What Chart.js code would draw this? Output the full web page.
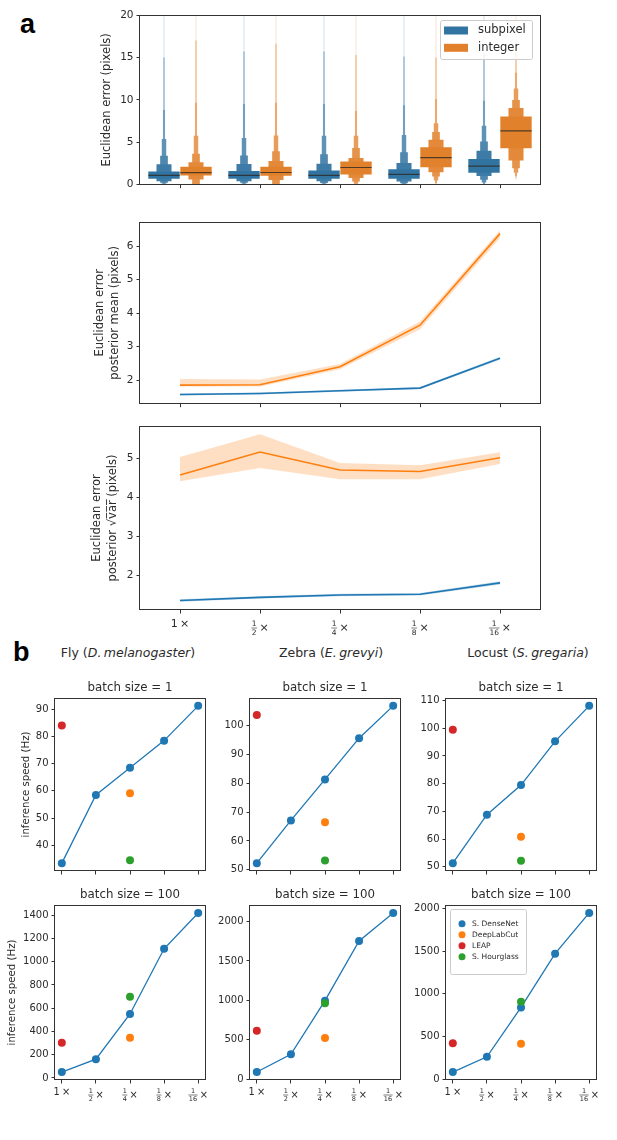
<!DOCTYPE html>
<html>
<head>
<meta charset="utf-8">
<script src="https://cdn.jsdelivr.net/npm/chart.js@4.4.1/dist/chart.umd.min.js"></script>
<style>
  body { margin: 0; width: 617px; height: 1140px; background: #fff; position: relative; overflow: hidden;
         font-family: "DejaVu Sans", sans-serif; color: #2b2b2b; }
  canvas { position: absolute; }
  .panel { position: absolute; font: bold 27px "Liberation Sans", Arial, sans-serif; line-height: 27px; color: #000; }
  .species { position: absolute; font-size: 12.5px; line-height: 1; white-space: nowrap; transform: translate(-50%, -50%); }
</style>
</head>
<body>
<div class="panel" style="left:20px;top:11px">a</div>
<div class="panel" style="left:13px;top:639px">b</div>
<div class="species" style="left:128px;top:653px">Fly (<i>D.&#8201;melanogaster</i>)</div>
<div class="species" style="left:331px;top:653px">Zebra (<i>E.&#8201;grevyi</i>)</div>
<div class="species" style="left:528px;top:653px">Locust (<i>S.&#8201;gregaria</i>)</div>

<canvas id="boxen"></canvas>
<canvas id="meanErr"></canvas>
<canvas id="sdErr"></canvas>
<canvas id="fly1"></canvas>
<canvas id="fly100"></canvas>
<canvas id="zebra1"></canvas>
<canvas id="zebra100"></canvas>
<canvas id="locust1"></canvas>
<canvas id="locust100"></canvas>

<script>
// ---------- DATA ----------
const scaleLabels = ['1', '1/2', '1/4', '1/8', '1/16'];
const hueNames = ['subpixel', 'integer'];

// boxen plot: medians + letter values, innermost level (quartiles) -> outermost
const subMedian = [1.09, 1.09, 1.09, 1.21, 2.19];
const subLow = [
  [0.70, 0.40, 0.22, 0.12, 0.06, 0.03, 0.00],
  [0.70, 0.40, 0.22, 0.12, 0.06, 0.03, 0.00],
  [0.70, 0.40, 0.20, 0.10, 0.05, 0.02, 0.00],
  [0.70, 0.39, 0.18, 0.09, 0.04, 0.02, 0.00],
  [1.40, 1.02, 0.58, 0.25, 0.10, 0.04, 0.00]
];
const subHigh = [
  [1.56, 2.40, 3.40, 5.40, 8.80, 15.0, 20.0],
  [1.60, 2.45, 3.45, 5.50, 9.50, 15.7, 20.0],
  [1.67, 2.46, 3.60, 5.77, 9.50, 15.7, 20.0],
  [1.83, 2.57, 3.82, 5.85, 9.36, 15.1, 20.0],
  [3.04, 4.00, 5.10, 6.94, 9.90, 15.5, 20.0]
];
const intMedian = [1.42, 1.44, 2.03, 3.20, 6.35];
const intLow = [
  [1.09, 0.62, 0.00, 0.00, 0.00, 0.00, 0.00],
  [1.05, 0.55, 0.00, 0.00, 0.00, 0.00, 0.00],
  [1.20, 0.78, 0.39, 0.10, 0.00, 0.00, 0.00],
  [2.07, 1.48, 0.97, 0.50, 0.20, 0.00, 0.00],
  [4.29, 2.85, 1.95, 1.40, 1.02, 0.80, 0.50]
];
const intHigh = [
  [2.12, 2.65, 3.65, 5.77, 9.65, 17.0, 20.0],
  [2.12, 2.80, 3.94, 5.80, 9.67, 16.6, 20.0],
  [2.73, 3.16, 4.33, 5.77, 8.70, 15.3, 20.0],
  [4.40, 5.30, 6.20, 7.25, 10.1, 15.0, 20.0],
  [8.03, 9.04, 9.98, 11.35, 13.2, 17.0, 20.0]
];

// posterior mean error
const meanSub = [1.57, 1.60, 1.68, 1.76, 2.65];
const meanSubLow = [1.54, 1.57, 1.65, 1.73, 2.61];
const meanSubHigh = [1.60, 1.63, 1.71, 1.79, 2.70];
const meanInt = [1.85, 1.86, 2.40, 3.64, 6.38];
const meanIntLow = [1.81, 1.81, 2.32, 3.52, 6.25];
const meanIntHigh = [2.03, 2.02, 2.48, 3.75, 6.48];

// posterior sqrt(var)
const sdSub = [1.36, 1.44, 1.50, 1.52, 1.81];
const sdSubLow = [1.33, 1.41, 1.47, 1.49, 1.77];
const sdSubHigh = [1.39, 1.47, 1.53, 1.55, 1.85];
const sdInt = [4.57, 5.16, 4.70, 4.66, 5.01];
const sdIntLow = [4.41, 4.75, 4.46, 4.46, 4.85];
const sdIntHigh = [5.03, 5.61, 4.88, 4.82, 5.15];

// inference speed (Hz)
const methodNames = ['S. DenseNet', 'DeepLabCut', 'LEAP', 'S. Hourglass'];
const baselineAt = [2, 0, 2];   // scale index of DeepLabCut, LEAP, S. Hourglass
const batchTitles = ['batch size = 1', 'batch size = 100'];
const denseFly1 = [33.4, 58.5, 68.5, 78.5, 91.3];
const baseFly1 = [59.1, 84.1, 34.5];
const denseFly100 = [51, 162, 550, 1111, 1419];
const baseFly100 = [345, 303, 698];
const denseZebra1 = [52.3, 67.1, 81.3, 95.6, 106.8];
const baseZebra1 = [66.5, 103.6, 53.2];
const denseZebra100 = [89, 314, 996, 1754, 2110];
const baseZebra100 = [521, 615, 962];
const denseLocust1 = [51.3, 68.8, 79.5, 95.3, 108.1];
const baseLocust1 = [60.8, 99.5, 52.2];
const denseLocust100 = [82, 261, 839, 1469, 1946];
const baseLocust100 = [413, 418, 906];

// ---------- STYLE ----------
const FONT = '"DejaVu Sans", sans-serif';
const INK = '#2b2b2b';
const FRAME = '#333333';
const hueColors = ['#3274a1', '#e1812c'];
const lineColors = ['#1f77b4', '#ff7f0e'];
const bandColors = ['rgba(31,119,180,0.25)', 'rgba(255,127,14,0.25)'];
const methodColors = ['#1f77b4', '#ff7f0e', '#d62728', '#2ca02c'];
const levelWidth = [0.98, 0.47, 0.24, 0.14, 0.065, 0.045, 0.03];
const levelFade = [0, 0.06, 0.14, 0.22, 0.32, 0.5, 0.78];

Chart.defaults.font.family = FONT;
Chart.defaults.color = INK;

function fade(hex, t) {
  const n = parseInt(hex.slice(1), 16);
  const f = c => Math.round(c + (255 - c) * t);
  return `rgb(${f(n >> 16)},${f((n >> 8) & 255)},${f(n & 255)})`;
}

function place(id, left, top, w, h) {
  const c = document.getElementById(id);
  c.width = w; c.height = h;
  c.style.left = left + 'px'; c.style.top = top + 'px';
  return c;
}

function xAxis(min, max, height) {
  return {
    type: 'linear', min: min, max: max, offset: false, bounds: 'data',
    afterBuildTicks: s => { s.ticks = scaleLabels.map((_, i) => ({value: i})); },
    afterFit: s => { s.height = height; },
    border: {display: false},
    grid: {offset: false, drawOnChartArea: false, drawTicks: true, tickLength: 3.5, color: FRAME},
    ticks: {display: false}
  };
}

function yAxis(o) {
  return {
    type: 'linear', min: o.min, max: o.max, bounds: 'data',
    afterBuildTicks: s => {
      const t = [];
      for (let k = Math.ceil(o.min / o.step - 1e-9); k * o.step <= o.max + 1e-9; k++) t.push({value: k * o.step});
      s.ticks = t;
    },
    afterFit: s => { s.width = o.width; },
    border: {display: false},
    grid: {drawOnChartArea: false, drawTicks: true, tickLength: 3.5, color: FRAME},
    ticks: {color: INK, padding: 3, font: {size: o.size}, callback: v => String(v)},
    title: o.title ? {display: true, text: o.title, color: INK,
      padding: {top: o.titlePad, bottom: 0}, font: {size: o.titleSize, lineHeight: o.lh || 1.2}} : {display: false}
  };
}

// axes frame (all four spines)
const framePlugin = {
  id: 'frame',
  afterDatasetsDraw(chart) {
    const {ctx, chartArea: a} = chart;
    ctx.save();
    ctx.strokeStyle = FRAME; ctx.lineWidth = 1;
    const l = Math.round(a.left) - 0.5, t = Math.round(a.top) + 0.5;
    ctx.strokeRect(l, t, Math.round(a.right) - l + 0.5, Math.round(a.bottom) - t - 0.5);
    ctx.restore();
  }
};

// axes title centred over the plotting area
function axesTitle(text, size, dy) {
  return {
    id: 'axesTitle',
    afterDraw(chart) {
      const {ctx, chartArea: a} = chart;
      ctx.save();
      ctx.fillStyle = INK; ctx.font = `${size}px ${FONT}`;
      ctx.textAlign = 'center'; ctx.textBaseline = 'middle';
      ctx.fillText(text, (a.left + a.right) / 2, a.top - dy);
      ctx.restore();
    }
  };
}

// "1x", "1/2 x" ... tick labels with stacked fractions
function scaleTickLabels(big, small, dyWhole, dyFrac) {
  return {
    id: 'scaleTicks',
    afterDraw(chart) {
      const {ctx, chartArea: a} = chart;
      const sx = chart.scales.x;
      ctx.save();
      ctx.fillStyle = INK; ctx.textBaseline = 'middle';
      sx.ticks.forEach((t, i) => {
        const x = sx.getPixelForValue(t.value);
        const parts = scaleLabels[i].split('/');
        ctx.font = `${big}px ${FONT}`;
        const tw = ctx.measureText('×').width;
        const gap = big * 0.22;
        if (parts.length === 1) {
          const y = a.bottom + dyWhole;
          const w1 = ctx.measureText(parts[0]).width;
          const x0 = x - (w1 + gap + tw) / 2;
          ctx.textAlign = 'left';
          ctx.fillText(parts[0], x0, y);
          ctx.fillText('×', x0 + w1 + gap, y);
        } else {
          const y = a.bottom + dyFrac;
          ctx.font = `${small}px ${FONT}`;
          const fw = Math.max(ctx.measureText(parts[0]).width, ctx.measureText(parts[1]).width) + 1;
          const x0 = x - (fw + gap + tw) / 2;
          ctx.textAlign = 'center';
          ctx.fillText(parts[0], x0 + fw / 2, y - small * 0.58);
          ctx.fillText(parts[1], x0 + fw / 2, y + small * 0.68);
          ctx.fillRect(x0, y - 0.3, fw, 0.6);
          ctx.font = `${big}px ${FONT}`;
          ctx.textAlign = 'left';
          ctx.fillText('×', x0 + fw + gap, y);
        }
      });
      ctx.restore();
    }
  };
}

// legend drawn inside the axes
function keyPlugin(o) {
  return {
    id: 'key',
    afterDraw(chart) {
      const {ctx, chartArea: a} = chart;
      const x0 = o.right !== undefined ? a.right - o.right - o.w : a.left + o.left;
      const y0 = a.top + o.top;
      ctx.save();
      ctx.fillStyle = 'rgba(255,255,255,0.85)';
      ctx.strokeStyle = '#cccccc'; ctx.lineWidth = 1;
      ctx.beginPath();
      ctx.roundRect(Math.round(x0) + 0.5, Math.round(y0) + 0.5, o.w, o.h, 2);
      ctx.fill(); ctx.stroke();
      ctx.font = `${o.size}px ${FONT}`;
      ctx.textBaseline = 'middle'; ctx.textAlign = 'left';
      o.items.forEach((txt, i) => {
        const y = y0 + o.first + i * o.step;
        ctx.fillStyle = o.colors[i];
        if (o.patch) ctx.fillRect(x0 + o.mx - 12, y - 4, 24, 8);
        else { ctx.beginPath(); ctx.arc(x0 + o.mx, y, 3.5, 0, 2 * Math.PI); ctx.fill(); }
        ctx.fillStyle = INK;
        ctx.fillText(txt, x0 + o.tx, y);
      });
      ctx.restore();
    }
  };
}

const baseOptions = () => ({
  responsive: false, animation: false, events: [],
  layout: {padding: {top: 10, right: 6, left: 0, bottom: 0}},
  plugins: {legend: {display: false}, tooltip: {enabled: false}, title: {display: false}}
});

// ---------- a: boxen plot ----------
const dodge = [-0.2, 0.2];
const hueSets = [[subMedian, subLow, subHigh], [intMedian, intLow, intHigh]];
const boxenSets = [];
hueSets.forEach(([med], h) => boxenSets.push({
  data: med.map((m, i) => ({x: i + dodge[h], y: [m - 0.07, m + 0.07]})),
  backgroundColor: 'rgba(45,40,35,0.8)', borderWidth: 0,
  barPercentage: levelWidth[0], categoryPercentage: 1, grouped: false
}));
levelWidth.forEach((w, k) => hueSets.forEach(([, lo, hi], h) => boxenSets.push({
  data: lo.map((l, i) => ({x: i + dodge[h], y: [l[k], hi[i][k]]})),
  backgroundColor: fade(hueColors[h], levelFade[k]), borderWidth: 0,
  barPercentage: w, categoryPercentage: 1, grouped: false
})));

const boxenOpts = baseOptions();
boxenOpts.scales = {
  x: xAxis(-0.5, 4.5, 8),
  y: yAxis({min: 0, max: 20, step: 5, width: 60, size: 10.5,
            title: 'Euclidean error (pixels)', titleSize: 11.5, titlePad: 20})
};
new Chart(place('boxen', 80, 5, 466, 189), {
  type: 'bar',
  data: {datasets: boxenSets},
  options: boxenOpts,
  plugins: [framePlugin, keyPlugin({right: 8, top: 5, w: 92, h: 39, first: 10.5, step: 17.3,
    mx: 16, tx: 38, size: 11.5, patch: true, items: hueNames, colors: hueColors})]
});

// ---------- a: line plots with bands ----------
function pts(arr) { return arr.map((v, i) => ({x: i, y: v})); }
function bandChart(id, geo, series, yo, withLabels) {
  const all = series.flatMap(s => s[1].concat(s[2]));
  const lo = Math.min(...all), hi = Math.max(...all), m = 0.05 * (hi - lo);
  const sets = [];
  series.slice().reverse().forEach((s, r) => {
    const h = series.length - 1 - r;
    sets.push({data: pts(s[0]), borderColor: lineColors[h], borderWidth: 1.6, pointRadius: 0, fill: false, tension: 0});
  });
  series.forEach((s, h) => {
    sets.push({data: pts(s[2]), borderWidth: 0, pointRadius: 0, fill: '+1', backgroundColor: bandColors[h], tension: 0});
    sets.push({data: pts(s[1]), borderWidth: 0, pointRadius: 0, fill: false, tension: 0});
  });
  const opts = baseOptions();
  opts.scales = {
    x: xAxis(-0.5, 4.5, geo.xh),
    y: yAxis(Object.assign({min: lo - m, max: hi + m, step: 1, width: 60, size: 10.5, titleSize: 11.5}, yo))
  };
  const plugins = [framePlugin];
  if (withLabels) plugins.push(scaleTickLabels(11, 7.5, 14, 18));
  new Chart(place(id, geo.left, geo.top, geo.w, geo.h), {type: 'line', data: {datasets: sets}, options: opts, plugins});
}

bandChart('meanErr', {left: 80, top: 212, w: 466, h: 201, xh: 8},
  [[meanSub, meanSubLow, meanSubHigh], [meanInt, meanIntLow, meanIntHigh]],
  {title: ['Euclidean error', 'posterior mean (pixels)'], titlePad: 13, lh: 1.3}, false);

bandChart('sdErr', {left: 80, top: 416, w: 466, h: 228, xh: 34},
  [[sdSub, sdSubLow, sdSubHigh], [sdInt, sdIntLow, sdIntHigh]],
  {title: ['Euclidean error', 'posterior \u221Av\u0305a\u0305r\u0305 (pixels)'], titlePad: 8.5, lh: 1.45}, true);

// ---------- b: inference speed ----------
function speedChart(id, geo, dense, base, title, step, yTitle, withLabels, legend) {
  const all = dense.concat(base);
  const lo = Math.min(...all), hi = Math.max(...all), m = 0.05 * (hi - lo);
  const sets = [{data: pts(dense), borderColor: methodColors[0], backgroundColor: methodColors[0],
    borderWidth: 1.3, pointRadius: 4, pointBorderWidth: 0, tension: 0, order: 4}];
  base.forEach((v, k) => sets.push({
    data: [{x: baselineAt[k], y: v}], showLine: false, pointRadius: 4, pointBorderWidth: 0,
    backgroundColor: methodColors[k + 1], borderColor: methodColors[k + 1], order: 3 - k
  }));
  const opts = baseOptions();
  opts.layout.padding.top = 20;
  opts.scales = {
    x: xAxis(-0.2, 4.2, geo.xh),
    y: yAxis({min: lo - m, max: hi + m, step: step, width: geo.yw, size: 10,
              title: yTitle, titleSize: 10.2, titlePad: geo.tp || 0})
  };
  const plugins = [framePlugin, axesTitle(title, 11.8, 10.5)];
  if (withLabels) plugins.push(scaleTickLabels(9.8, 6.5, 12, 15));
  if (legend) plugins.push(keyPlugin({left: 4, top: 4, w: 76, h: 65, first: 14.7, step: 11,
    mx: 12, tx: 22, size: 7.5, patch: false, items: methodNames, colors: methodColors}));
  new Chart(place(id, geo.left, geo.top, geo.w, geo.h), {type: 'line', data: {datasets: sets}, options: opts, plugins});
}

const yTitleSpeed = 'inference speed (Hz)';
speedChart('fly1', {left: 0, top: 678, w: 211, h: 202, yw: 55, xh: 8, tp: 20}, denseFly1, baseFly1, batchTitles[0], 10, yTitleSpeed, false, false);
speedChart('fly100', {left: 0, top: 885, w: 211, h: 223, yw: 55, xh: 28, tp: 6.5}, denseFly100, baseFly100, batchTitles[1], 200, yTitleSpeed, true, false);
speedChart('zebra1', {left: 205, top: 678, w: 201, h: 202, yw: 45, xh: 8}, denseZebra1, baseZebra1, batchTitles[0], 10, null, false, false);
speedChart('zebra100', {left: 205, top: 885, w: 201, h: 223, yw: 45, xh: 28}, denseZebra100, baseZebra100, batchTitles[1], 500, null, true, false);
speedChart('locust1', {left: 401, top: 678, w: 201, h: 202, yw: 45, xh: 8}, denseLocust1, baseLocust1, batchTitles[0], 10, null, false, false);
speedChart('locust100', {left: 401, top: 885, w: 201, h: 223, yw: 45, xh: 28}, denseLocust100, baseLocust100, batchTitles[1], 500, null, true, true);
</script>
</body>
</html>
